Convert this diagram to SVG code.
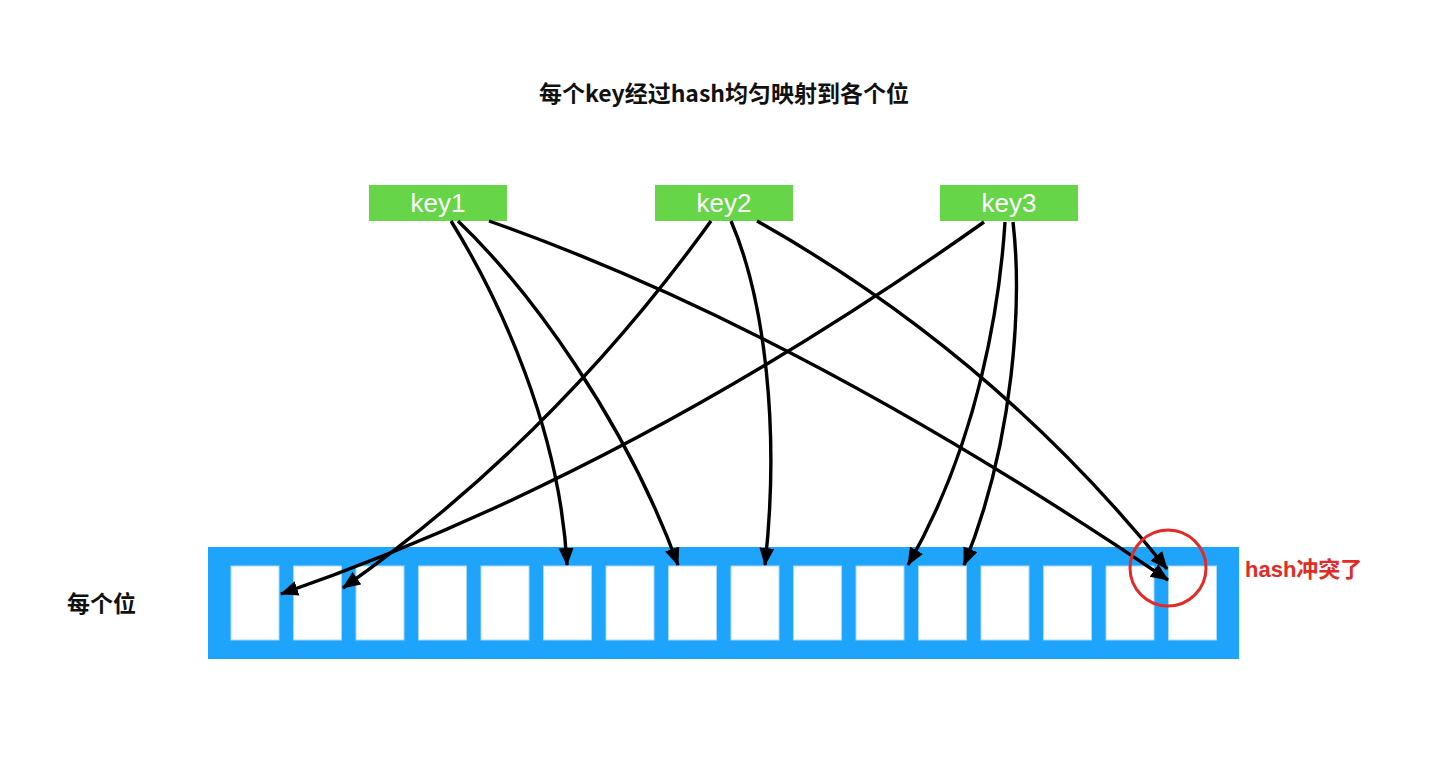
<svg xmlns="http://www.w3.org/2000/svg" width="1440" height="777" viewBox="0 0 1440 777">
<style>
.bar{fill:#1ea4fa}
.cell{fill:#ffffff;stroke:#a8d8fb;stroke-width:1}
.key{fill:#66d548}
.keytxt{fill:#ffffff;font-family:"Liberation Sans","Noto Sans",sans-serif;font-size:26px;text-anchor:middle}
.lbl{fill:#111111;font-family:"Noto Sans CJK SC","Noto Sans",sans-serif;font-weight:bold}
.red{fill:#e22b26;font-family:"Liberation Sans","Noto Sans CJK SC",sans-serif;font-weight:bold;font-size:22px}
.conn{fill:none;stroke:#000000;stroke-width:3.4}
</style>
<defs>
<marker id="ah" markerUnits="userSpaceOnUse" markerWidth="20" markerHeight="16" refX="17" refY="7.5" orient="auto">
<path d="M0,0 L18,7.5 L0,15 z" fill="#000000"/>
</marker>
</defs>
<rect width="1440" height="777" fill="#ffffff"/>
<g id="title"><text class="lbl" x="724" y="102" text-anchor="middle" font-size="23">每个key经过hash均匀映射到各个位</text></g>
<g id="label-slots"><text class="lbl" x="67" y="612" font-size="23">每个位</text></g>
<g id="array">
<rect class="bar" x="208" y="547" width="1031" height="112"/>
<rect class="cell" x="231" y="566" width="48" height="74"/>
<rect class="cell" x="293.5" y="566" width="48" height="74"/>
<rect class="cell" x="356" y="566" width="48" height="74"/>
<rect class="cell" x="418.5" y="566" width="48" height="74"/>
<rect class="cell" x="481" y="566" width="48" height="74"/>
<rect class="cell" x="543.5" y="566" width="48" height="74"/>
<rect class="cell" x="606" y="566" width="48" height="74"/>
<rect class="cell" x="668.5" y="566" width="48" height="74"/>
<rect class="cell" x="731" y="566" width="48" height="74"/>
<rect class="cell" x="793.5" y="566" width="48" height="74"/>
<rect class="cell" x="856" y="566" width="48" height="74"/>
<rect class="cell" x="918.5" y="566" width="48" height="74"/>
<rect class="cell" x="981" y="566" width="48" height="74"/>
<rect class="cell" x="1043.5" y="566" width="48" height="74"/>
<rect class="cell" x="1106" y="566" width="48" height="74"/>
<rect class="cell" x="1168.5" y="566" width="48" height="74"/>
</g>
<g id="key1"><rect class="key" x="369" y="185" width="138" height="36"/><text class="keytxt" x="438" y="212">key1</text></g>
<g id="key2"><rect class="key" x="655" y="185" width="138" height="36"/><text class="keytxt" x="724" y="212">key2</text></g>
<g id="key3"><rect class="key" x="940" y="185" width="138" height="36"/><text class="keytxt" x="1009" y="212">key3</text></g>
<g id="connectors">
<path class="conn" marker-end="url(#ah)" d="M451,221 C500,300 560,430 567,565"/>
<path class="conn" marker-end="url(#ah)" d="M458,221 C530,290 625,420 678,565"/>
<path class="conn" marker-end="url(#ah)" d="M489,221 Q800,330 1168,580"/>
<path class="conn" marker-end="url(#ah)" d="M711,221 Q553,440 343,588"/>
<path class="conn" marker-end="url(#ah)" d="M731,221 C765,300 780,430 765,565"/>
<path class="conn" marker-end="url(#ah)" d="M757,221 Q995,355 1167,569"/>
<path class="conn" marker-end="url(#ah)" d="M984,222 Q632,472 281,594"/>
<path class="conn" marker-end="url(#ah)" d="M1005,222 C1000,300 980,440 908,565"/>
<path class="conn" marker-end="url(#ah)" d="M1013,222 C1022,300 1015,440 964,565"/>
</g>
<g id="collision">
<circle cx="1168" cy="568" r="38" fill="none" stroke="#e22b26" stroke-width="3"/>
<text class="red" x="1245" y="577">hash冲突了</text>
</g>
</svg>
